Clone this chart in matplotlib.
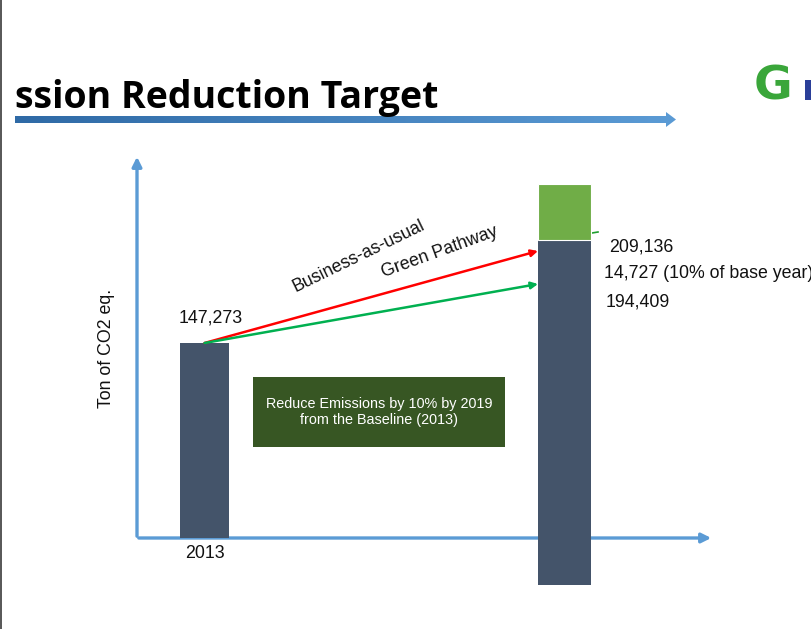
import matplotlib
matplotlib.use("Agg")
import matplotlib.pyplot as plt
import numpy as np
from matplotlib.patches import Rectangle, Polygon

# ---------------- data ----------------
years = ["2013", "2019"]
value_labels = ["147,273", "209,136", "14,727 (10% of base year)", "194,409"]
# bar extents as drawn (ton of CO2 eq., illustrative scale)
bar_bottom = [0, -35500]
bar_top = [147273, 225065]
reduction_top = 267360          # top of the green "reduction" block on 2019 bar
bau_target = 216760             # business-as-usual arrow end
green_target = 191830           # green pathway arrow end
path_names = ["Business-as-usual", "Green Pathway"]

W, H = 812, 629
fig = plt.figure(figsize=(W / 100, H / 100), dpi=100)

# decoration layer in pixel coordinates (y downward)
deco = fig.add_axes([0, 0, 1, 1], zorder=0)
deco.set_xlim(0, W)
deco.set_ylim(H, 0)
deco.axis("off")

# data layer
ax = fig.add_axes([0, 0, 1, 1], zorder=1)
ax.patch.set_alpha(0)
px_per_idx = 360.0
x0_px = 204.5
tons_per_px = 147273 / 195.0
ax.set_xlim(-x0_px / px_per_idx, (W - x0_px) / px_per_idx)
ax.set_ylim(-(H - 538) * tons_per_px, 538 * tons_per_px)
ax.axis("off")

# left slide border
deco.plot([1.5, 1.5], [0, H], color="#3a3a3a", lw=1.2)

# title
deco.text(15, 108, "ssion Reduction Target", fontsize=27, fontweight="bold",
          family="Open Sans", color="black", ha="left", va="baseline")

# gradient title arrow
poly = np.array([[15, 116], [666, 116], [666, 112], [676, 119.5], [666, 127],
                 [666, 123], [15, 123]])
arrow_patch = Polygon(poly, closed=True, facecolor="none", edgecolor="none")
deco.add_patch(arrow_patch)
grad = np.linspace(0, 1, 256).reshape(1, -1)
cmap = matplotlib.colors.LinearSegmentedColormap.from_list("g", ["#2f6aa6", "#5b9bd5"])
im = deco.imshow(grad, extent=[15, 676, 128, 111], cmap=cmap, aspect="auto", zorder=1)
im.set_clip_path(arrow_patch)
deco.set_xlim(0, W)
deco.set_ylim(H, 0)

# logo
deco.text(754, 100, "G", fontsize=34, fontweight="bold", family="DejaVu Sans",
          color="#3aa63a", ha="left", va="baseline")
deco.text(802, 100, "r", fontsize=26, fontweight="bold", family="DejaVu Sans",
          color="#2b3f99", ha="left", va="baseline")

# chart axes arrows
axis_col = "#5b9bd5"
deco.annotate("", xy=(137, 154), xytext=(137, 539),
              arrowprops=dict(arrowstyle="-|>", color=axis_col, lw=2.4, mutation_scale=14))
deco.annotate("", xy=(714, 538), xytext=(136, 538),
              arrowprops=dict(arrowstyle="-|>", color=axis_col, lw=2.4, mutation_scale=14))

# bars
bar_color = "#44546a"
ax.bar(0, bar_top[0] - bar_bottom[0], bottom=bar_bottom[0], width=49 / px_per_idx,
       color=bar_color, zorder=2)
w2 = 53 / px_per_idx
ax.bar(1, bar_top[1] - bar_bottom[1], bottom=bar_bottom[1], width=w2,
       color=bar_color, zorder=2)
ax.bar(1, reduction_top - bar_top[1], bottom=bar_top[1], width=w2,
       color="#70ad47", edgecolor="white", linewidth=0.8, zorder=2)

# pathway arrows
x_end = 1 - w2 / 2
ax.annotate("", xy=(x_end, bau_target), xytext=(0, bar_top[0]),
            arrowprops=dict(arrowstyle="-|>", color="#ff0000", lw=1.8, mutation_scale=10,
                            shrinkA=0, shrinkB=0), zorder=3)
ax.annotate("", xy=(x_end, green_target), xytext=(0, bar_top[0]),
            arrowprops=dict(arrowstyle="-|>", color="#00b050", lw=1.8, mutation_scale=10,
                            shrinkA=0, shrinkB=0), zorder=3)
# small green pointer
deco.plot([598, 580], [232, 235], color="#1e9e2e", lw=1.2, zorder=3)
deco.add_patch(Polygon([[558, 238], [576, 238], [567, 242]], closed=True,
                       facecolor="#1e9e2e", edgecolor="none", zorder=3))

# texts
tf = dict(family="Liberation Sans", fontsize=12.8, color="#111111")
deco.text(211, 318, value_labels[0], ha="center", va="center", **tf)
deco.text(359, 256, path_names[0], ha="center", va="center", rotation=26, **tf)
deco.text(440, 252, path_names[1], ha="center", va="center", rotation=20, **tf)
deco.text(609, 247, value_labels[1], ha="left", va="center", **tf)
deco.text(604, 273, value_labels[2], ha="left", va="center", **tf)
deco.text(606, 302, value_labels[3], ha="left", va="center", **tf)
deco.text(205, 553, years[0], ha="center", va="center", **tf)
deco.text(107, 348, "Ton of CO2 eq.", ha="center", va="center", rotation=90, **tf)

# message box
deco.add_patch(Rectangle((253, 377), 252, 70, facecolor="#375623", edgecolor="none", zorder=2))
deco.text(379, 412, "Reduce Emissions by 10% by 2019\nfrom the Baseline (2013)",
          ha="center", va="center", color="white", family="Liberation Sans",
          fontsize=10.4, linespacing=1.1, zorder=3)

fig.savefig("out.png", dpi=100)
